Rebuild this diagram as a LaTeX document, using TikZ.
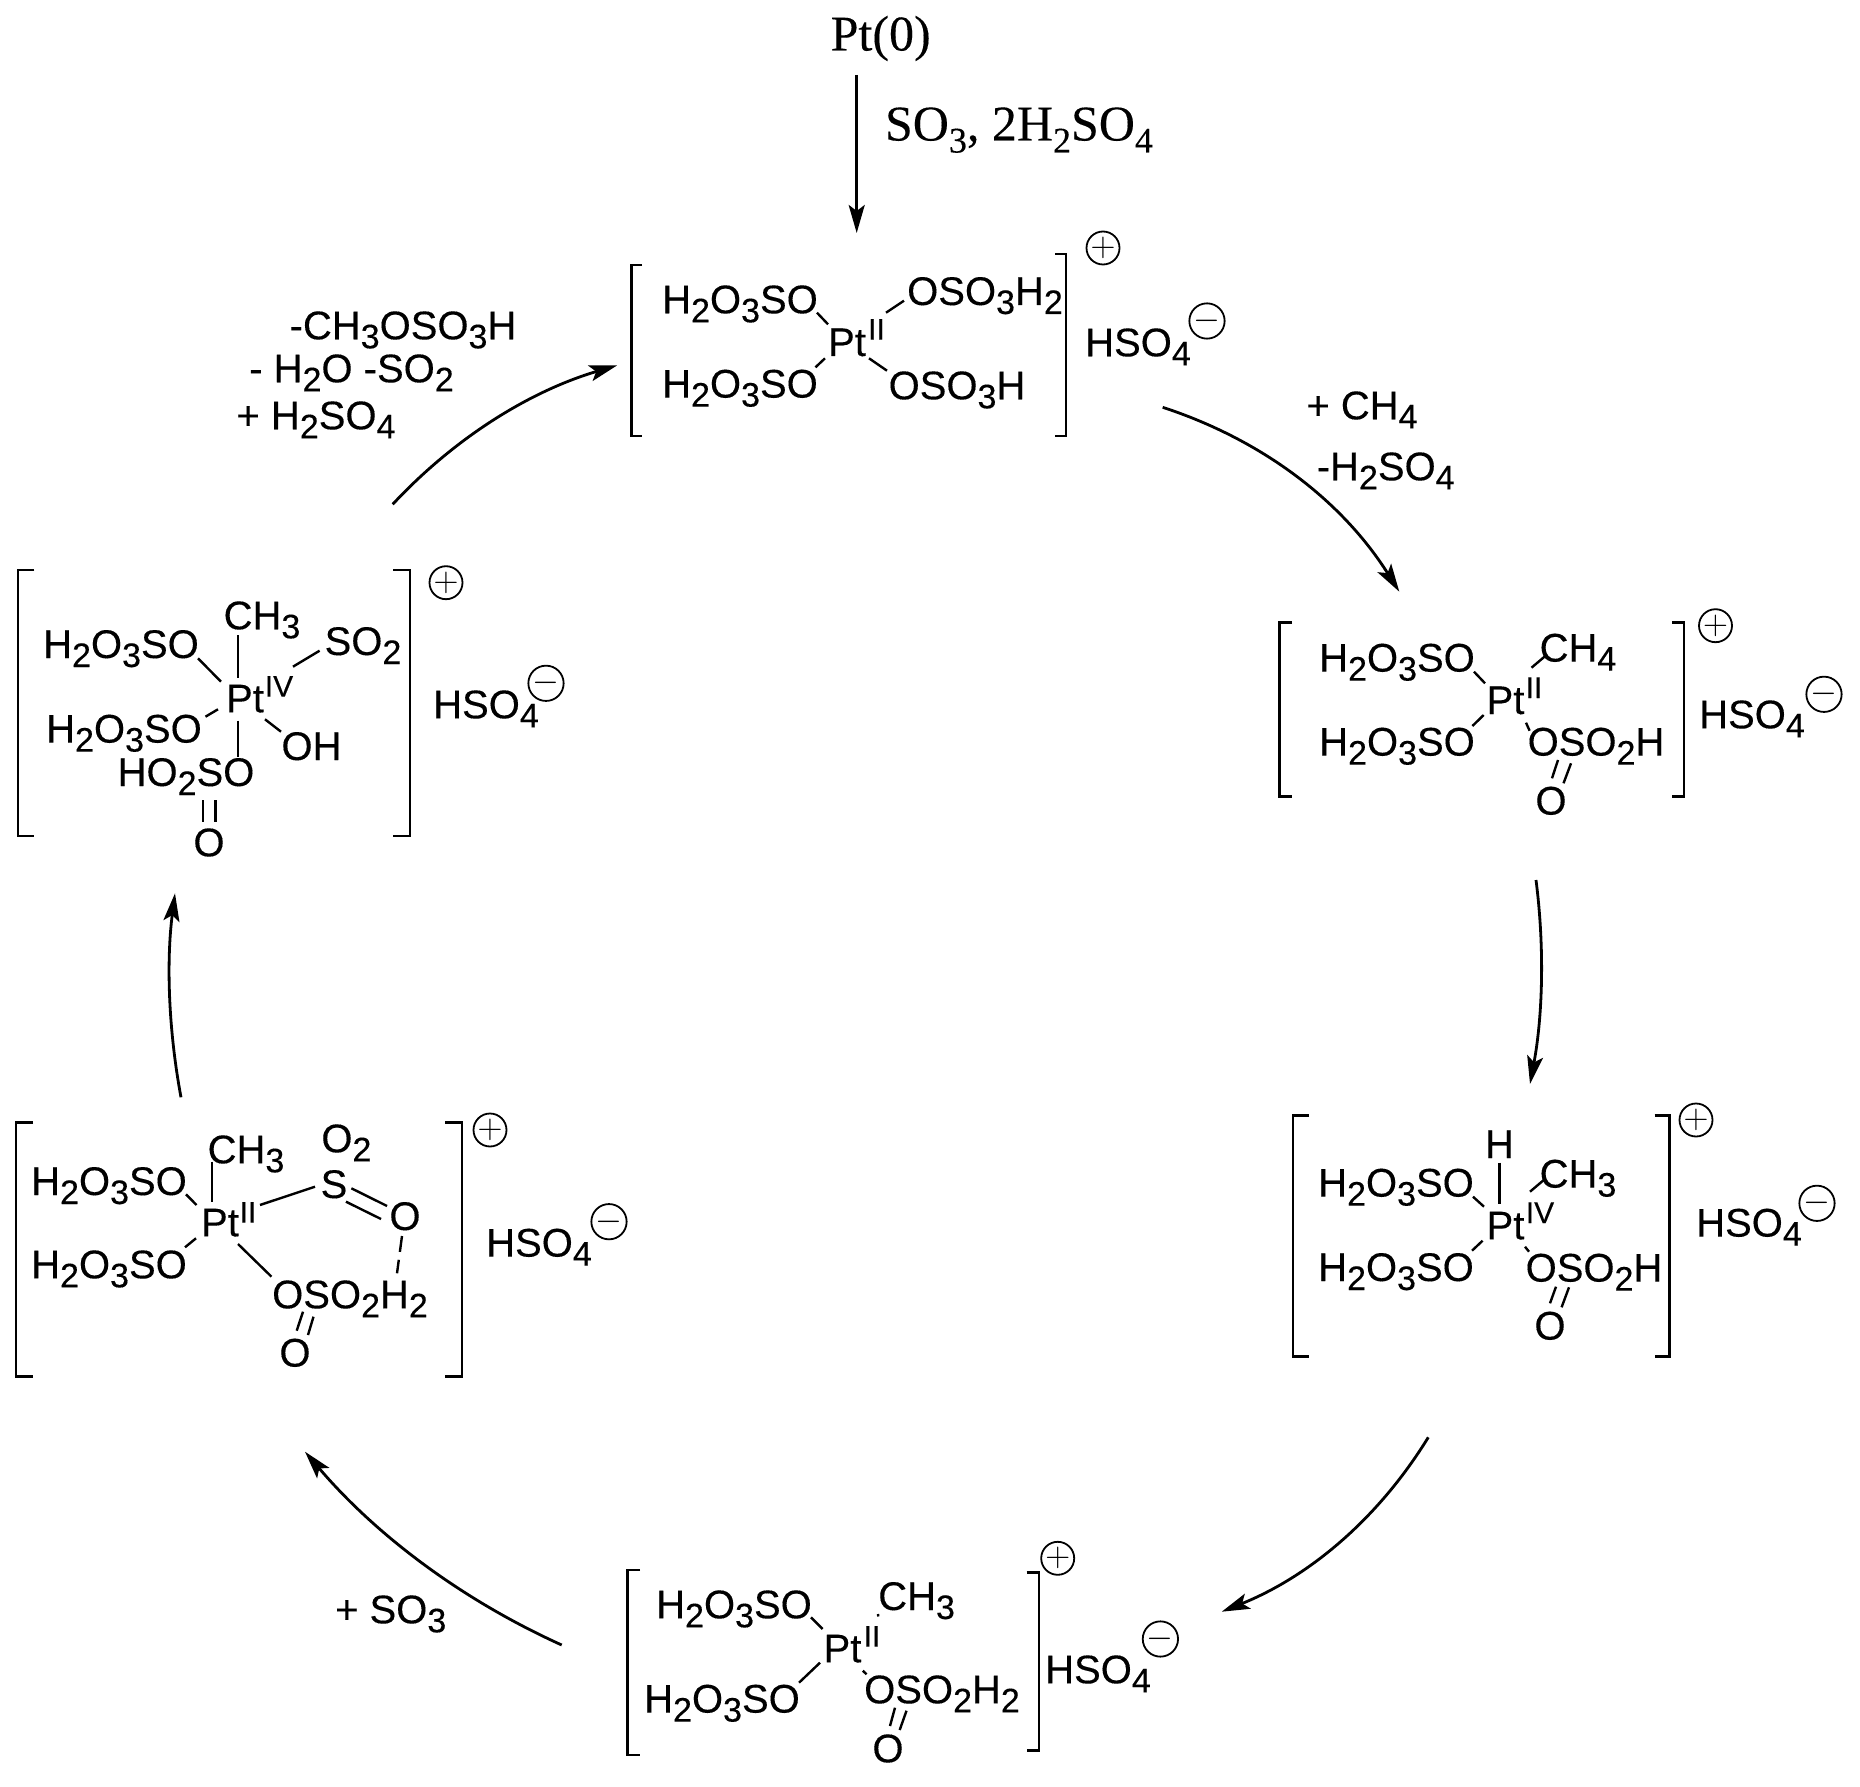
\documentclass[tikz,border=0pt]{standalone}
\usepackage{fontspec}
\setmainfont{Liberation Sans}[FakeBold=0.25]
\newfontfamily\serifchem{Liberation Serif}[FakeBold=0.2]
\usetikzlibrary{arrows.meta}
\newcommand{\sbs}[1]{\raisebox{-4.5pt}{\fontsize{17}{17}\selectfont #1}}
\newcommand{\ssb}[1]{\raisebox{-6pt}{\fontsize{18}{18}\selectfont #1}}
\newcommand{\HOSO}{H\sbs{2}O\sbs{3}SO}
\newcommand{\HSOfour}{HSO\sbs{4}}

\begin{document}
\begin{tikzpicture}[
x=0.5pt,y=-0.5pt,
Chem/.style={inner sep=0pt,text height=14.3pt,text depth=0pt,font=\fontsize{20}{24}\selectfont},
Ox/.style={inner sep=0pt,text height=10.7pt,text depth=0pt,font=\fontsize{15}{18}\selectfont},
Serif/.style={inner sep=0pt,text height=16.5pt,text depth=0pt,font=\serifchem\fontsize{25}{30}\selectfont},
Charge/.style={circle,draw,line width=0.9pt,inner sep=0pt,minimum size=15pt,font=\fontsize{17}{17}\selectfont},
Bond/.style={line width=1.2pt},
Bracket/.style={line width=1.4pt},
CycleArrow/.style={line width=1.4pt,-{Stealth[length=14pt,width=8pt,inset=3pt]}}
]
\useasboundingbox (0,0) rectangle (1860,1787);

% entry
\node[Serif] (ptzero) at (880.7,34) {Pt(0)};
\node[Serif] (entry) at (1019,124) {SO\ssb{3}, 2H\ssb{2}SO\ssb{4}};
\coordinate (ptzeroend) at (856.7,233);
\draw[CycleArrow] ([shift={(-24,41)}]ptzero.center)--(ptzeroend);

% complex a
\draw[Bracket] (642,265) -| (631.6,436) -- (642,436);
\draw[Bracket] (1055,254) -| (1066,436) -- (1055,436);
\node[Chem] (pta) at (847,341.7) {Pt};
\node[Ox] (oxa) at (876.5,329) {II};
\node[Chem] (la1) at (740,299) {\HOSO};
\node[Chem] (la2) at (740,383.3) {\HOSO};
\node[Chem] (la3) at (985,290.7) {OSO\sbs{3}H\sbs{2}};
\node[Chem] (la4) at (957,385) {OSO\sbs{3}H};
\node[Chem] (ana) at (1138,342) {\HSOfour};
\node[Charge] (plusa) at (1103,248) {$+$};
\node[Charge] (minusa) at (1207,321) {$-$};
\draw[Bond] ([shift={(77,13.7)}]la1.center)--([shift={(-19,-17.4)}]pta.center);
\draw[Bond] ([shift={(75.5,-16)}]la2.center)--([shift={(-22,16.6)}]pta.center);
\draw[Bond] ([shift={(39,-29)}]pta.center)--([shift={(-81,10)}]la3.center);
\draw[Bond] ([shift={(22,16.6)}]pta.center)--([shift={(-70,-14.3)}]la4.center);

% complex b
\draw[Bracket] (1292,622.7) -| (1279.4,796.7) -- (1292,796.7);
\draw[Bracket] (1672,622.7) -| (1684,796.7) -- (1672,796.7);
\node[Chem] (ptb) at (1505.5,699.7) {Pt};
\node[Ox] (oxb) at (1534,687.3) {II};
\node[Chem] (lb1) at (1397,657.3) {\HOSO};
\node[Chem] (lb2) at (1397,741.3) {\HOSO};
\node[Chem] (lb3) at (1578,647.3) {CH\sbs{4}};
\node[Chem] (lb4) at (1596,741.3) {OSO\sbs{2}H};
\node[Chem] (lb5) at (1551,800.3) {O};
\node[Chem] (anb) at (1752,714) {\HSOfour};
\node[Charge] (plusb) at (1715.5,625.7) {$+$};
\node[Charge] (minusb) at (1824,694.3) {$-$};
\draw[Bond] ([shift={(77,14.4)}]lb1.center)--([shift={(-20.5,-16.4)}]ptb.center);
\draw[Bond] ([shift={(75.4,-15.3)}]lb2.center)--([shift={(-21.8,15.3)}]ptb.center);
\draw[Bond] ([shift={(26,-32)}]ptb.center)--([shift={(-31.5,7.7)}]lb3.center);
\draw[Bond] ([shift={(20.5,23)}]ptb.center)--([shift={(-66.4,-10.6)}]lb4.center);
\draw[Bond] ([shift={(-38,18.7)}]lb4.center)--([shift={(1,-22)}]lb5.center);
\draw[Bond] ([shift={(-25,22)}]lb4.center)--([shift={(12.5,-17)}]lb5.center);

% complex c
\draw[Bracket] (1309,1115.7) -| (1293,1356.7) -- (1309,1356.7);
\draw[Bracket] (1654.5,1115.7) -| (1669.5,1356.7) -- (1654.5,1356.7);
\node[Chem] (ptc) at (1505.5,1225) {Pt};
\node[Ox] (oxc) at (1540,1212.3) {IV};
\node[Chem] (lc0) at (1499.5,1143.7) {H};
\node[Chem] (lc1) at (1396,1182.3) {\HOSO};
\node[Chem] (lc2) at (1396,1266.7) {\HOSO};
\node[Chem] (lc3) at (1578,1173.3) {CH\sbs{3}};
\node[Chem] (lc4) at (1594,1267.3) {OSO\sbs{2}H};
\node[Chem] (lc5) at (1550,1325.3) {O};
\node[Chem] (anc) at (1749,1222.3) {\HSOfour};
\node[Charge] (plusc) at (1696,1120) {$+$};
\node[Charge] (minusc) at (1817,1203.3) {$-$};
\draw[Bond] ([shift={(0,19)}]lc0.center)--([shift={(-6,-21)}]ptc.center);
\draw[Bond] ([shift={(77,14.4)}]lc1.center)--([shift={(-21.5,-18.3)}]ptc.center);
\draw[Bond] ([shift={(76,-16)}]lc2.center)--([shift={(-22.9,15.7)}]ptc.center);
\draw[Bond] ([shift={(24.5,-33.3)}]ptc.center)--([shift={(-33.4,6)}]lc3.center);
\draw[Bond] ([shift={(19.5,21.7)}]ptc.center)--([shift={(-65,-15.6)}]lc4.center);
\draw[Bond] ([shift={(-38,19.4)}]lc4.center)--([shift={(0,-22)}]lc5.center);
\draw[Bond] ([shift={(-25,20)}]lc4.center)--([shift={(11.6,-18)}]lc5.center);

% complex d
\draw[Bracket] (640,1570) -| (627.7,1755) -- (640,1755);
\draw[Bracket] (1026.5,1572.7) -| (1039,1750.7) -- (1026.5,1750.7);
\node[Chem] (ptd) at (842.5,1648) {Pt};
\node[Ox] (oxd) at (872,1636) {II};
\node[Chem] (ld1) at (734,1604) {\HOSO};
\node[Chem] (ld2) at (722,1698.3) {\HOSO};
\node[Chem] (ld3) at (916.6,1595.7) {CH\sbs{3}};
\node[Chem] (ld4) at (942,1689) {OSO\sbs{2}H\sbs{2}};
\node[Chem] (ld5) at (888,1748) {O};
\node[Chem] (and) at (1098,1669) {\HSOfour};
\node[Charge] (plusd) at (1057.7,1558.3) {$+$};
\node[Charge] (minusd) at (1160.4,1639) {$-$};
\draw[Bond] ([shift={(77,13.3)}]ld1.center)--([shift={(-19.9,-19)}]ptd.center);
\draw[Bond] ([shift={(77,-15.6)}]ld2.center)--([shift={(-22.5,14.7)}]ptd.center);
\draw[Bond] ([shift={(35.5,-34)}]ptd.center)--([shift={(-38.3,20.8)}]ld3.center);
\draw[Bond] ([shift={(20.3,22.7)}]ptd.center)--([shift={(-75.4,-14.7)}]ld4.center);
\draw[Bond] ([shift={(-47,18.7)}]ld4.center)--([shift={(2,-22)}]ld5.center);
\draw[Bond] ([shift={(-35.5,21.7)}]ld4.center)--([shift={(11.7,-18)}]ld5.center);

% complex e
\draw[Bracket] (33,1122.7) -| (16,1376.7) -- (33,1376.7);
\draw[Bracket] (445,1122.7) -| (462,1376.7) -- (445,1376.7);
\node[Chem] (pte) at (220,1222) {Pt};
\node[Ox] (oxe) at (248,1212) {II};
\node[Chem] (le1) at (109,1180.7) {\HOSO};
\node[Chem] (le2) at (109,1264) {\HOSO};
\node[Chem] (le3) at (246,1149) {CH\sbs{3}};
\node[Chem] (le4) at (334,1183.7) {S};
\node[Chem] (le5) at (346.4,1138) {O\sbs{2}};
\node[Chem] (le6) at (405,1215.7) {O};
\node[Chem] (le7) at (350,1294) {OSO\sbs{2}H\sbs{2}};
\node[Chem] (le8) at (295,1352.3) {O};
\node[Chem] (ane) at (539,1242.3) {\HSOfour};
\node[Charge] (pluse) at (490,1130) {$+$};
\node[Charge] (minuse) at (609,1221.7) {$-$};
\draw[Bond] ([shift={(-34,12.7)}]le3.center)--([shift={(-8,-20.3)}]pte.center);
\draw[Bond] ([shift={(77,13.6)}]le1.center)--([shift={(-23.5,-17)}]pte.center);
\draw[Bond] ([shift={(76,-16.7)}]le2.center)--([shift={(-24,16.3)}]pte.center);
\draw[Bond] ([shift={(40,-17)}]pte.center)--([shift={(-19,3)}]le4.center);
\draw[Bond] ([shift={(18,22)}]pte.center)--([shift={(-78.5,-17.3)}]le7.center);
\draw[Bond] ([shift={(17.4,4.6)}]le4.center)--([shift={(-18,-9.7)}]le6.center);
\draw[Bond] ([shift={(12,18)}]le4.center)--([shift={(-24,3.3)}]le6.center);
\draw[Bond,dash pattern=on 8pt off 4pt] ([shift={(-3,20.3)}]le6.center)--([shift={(47,-20.7)}]le7.center);
\draw[Bond] ([shift={(-36.5,22.7)}]le7.center)--([shift={(13,-17.3)}]le8.center);
\draw[Bond] ([shift={(-47,17.7)}]le7.center)--([shift={(1.7,-21.6)}]le8.center);

% complex f
\draw[Bracket] (34.4,570) -| (18,836) -- (34.4,836);
\draw[Bracket] (393,570) -| (410,836) -- (393,836);
\node[Chem] (ptf) at (245,698) {Pt};
\node[Ox] (oxf) at (279,686) {IV};
\node[Chem] (lf1) at (121,643.7) {\HOSO};
\node[Chem] (lf2) at (124,728.3) {\HOSO};
\node[Chem] (lf3) at (262,615) {CH\sbs{3}};
\node[Chem] (lf4) at (363,640.7) {SO\sbs{2}};
\node[Chem] (lf5) at (311.5,745.7) {OH};
\node[Chem] (lf6) at (186,771.7) {HO\sbs{2}SO};
\node[Chem] (lf7) at (209,842) {O};
\node[Chem] (anf) at (486,704) {\HSOfour};
\node[Charge] (plusf) at (446,582.7) {$+$};
\node[Charge] (minusf) at (546,683.3) {$-$};
\draw[Bond] ([shift={(-24,20)}]lf3.center)--([shift={(-7,-19.7)}]ptf.center);
\draw[Bond] ([shift={(77,14.6)}]lf1.center)--([shift={(-24,-16.3)}]ptf.center);
\draw[Bond] ([shift={(81.5,-11.6)}]lf2.center)--([shift={(-27,11.3)}]ptf.center);
\draw[Bond] ([shift={(48,-31.3)}]ptf.center)--([shift={(-43.4,10)}]lf4.center);
\draw[Bond] ([shift={(20,21.3)}]ptf.center)--([shift={(-30.5,-14)}]lf5.center);
\draw[Bond] ([shift={(-7,22.7)}]ptf.center)--([shift={(52,-15)}]lf6.center);
\draw[Bond] ([shift={(17,28.3)}]lf6.center)--([shift={(-6,-20.3)}]lf7.center);
\draw[Bond] ([shift={(29.5,28.3)}]lf6.center)--([shift={(6.5,-20.3)}]lf7.center);

% step labels
\node[Chem] (stepf1) at (403,325) {-CH\sbs{3}OSO\sbs{3}H};
\node[Chem] (stepf2) at (351.5,368) {- H\sbs{2}O -SO\sbs{2}};
\node[Chem] (stepf3) at (316,415) {+ H\sbs{2}SO\sbs{4}};
\node[Chem] (stepa1) at (1362,405) {+ CH\sbs{4}};
\node[Chem] (stepa2) at (1385.7,466) {-H\sbs{2}SO\sbs{4}};
\node[Chem] (stepd) at (390.7,1609) {+ SO\sbs{3}};

% cycle arrows
\coordinate (arfa) at (392.7,504.3);
\coordinate (araf) at (617.3,365.3);
\coordinate (arab) at (1162.7,407.3);
\coordinate (arba) at (1399.3,591.7);
\coordinate (arbc) at (1536,880);
\coordinate (arcb) at (1530,1084);
\coordinate (arcd) at (1428.3,1437.3);
\coordinate (ardc) at (1221.7,1611.7);
\coordinate (arde) at (561.7,1645);
\coordinate (ared) at (305,1451.7);
\coordinate (aref) at (181,1097.3);
\coordinate (arfe) at (175,893.3);
\draw[CycleArrow] (arfa) .. controls (454.9,437.6) and (529.8,391.2) .. (araf);
\draw[CycleArrow] (arab) .. controls (1263.7,440.4) and (1342.6,501.8) .. (arba);
\draw[CycleArrow] (arbc) .. controls (1544.7,948) and (1542.7,1016) .. (arcb);
\draw[CycleArrow] (arcd) .. controls (1378.6,1518.2) and (1309.8,1576.3) .. (ardc);
\draw[CycleArrow] (arde) .. controls (461.6,1599.7) and (376.1,1535.2) .. (ared);
\draw[CycleArrow] (aref) .. controls (168.3,1029) and (166.3,961.1) .. (arfe);

\end{tikzpicture}
\end{document}
